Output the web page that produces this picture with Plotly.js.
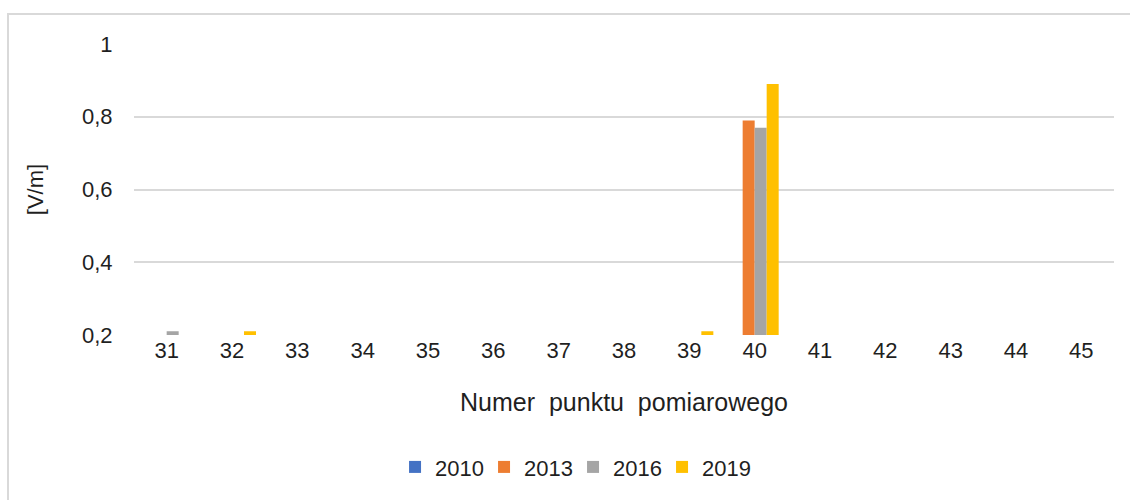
<!DOCTYPE html>
<html>
<head>
<meta charset="utf-8">
<script src="https://cdn.plot.ly/plotly-3.0.1.min.js"></script>
<style>
  body { margin: 0; background: #fff; }
  #frame { position: absolute; left: 7px; top: 13px; width: 1140px; height: 510px; border: 2px solid #d9d9d9; }
  #chart { position: absolute; left: 0; top: 0; width: 1130px; height: 500px; }
</style>
</head>
<body>
<div id="frame"></div>
<div id="chart"></div>
<script>
// measuring points
var points = ['31','32','33','34','35','36','37','38','39','40','41','42','43','44','45']
// [V/m] per year, values <= 0.2 sit on the axis floor
var y2010 = [0.2,0.2,0.2,0.2,0.2,0.2,0.2,0.2,0.2,0.2,0.2,0.2,0.2,0.2,0.2]
var y2013 = [0.2,0.2,0.2,0.2,0.2,0.2,0.2,0.2,0.2,0.79,0.2,0.2,0.2,0.2,0.2]
var y2016 = [0.21,0.2,0.2,0.2,0.2,0.2,0.2,0.2,0.2,0.77,0.2,0.2,0.2,0.2,0.2]
var y2019 = [0.2,0.21,0.2,0.2,0.2,0.2,0.2,0.2,0.21,0.89,0.2,0.2,0.2,0.2,0.2]
var years = ['2010','2013','2016','2019']
var colors = ['#4472c4','#ed7d31','#a5a5a5','#ffc000']

var series = [y2010, y2013, y2016, y2019]
var data = []
for (var i = 0; i < series.length; i++) {
  data.push({
    type: 'bar',
    name: years[i],
    x: points,
    y: series[i],
    marker: {color: colors[i], line: {width: 0}},
    hoverinfo: 'x+y+name'
  })
}

var font = {family: 'Liberation Sans, Arial, sans-serif', size: 22, color: '#1f1f1f'}
var titleFont = {family: 'Liberation Sans, Arial, sans-serif', size: 25, color: '#1f1f1f'}

var layout = {
  width: 1130,
  height: 500,
  margin: {l: 134, r: 16, t: 44, b: 165},
  paper_bgcolor: 'rgba(0,0,0,0)',
  plot_bgcolor: 'rgba(0,0,0,0)',
  separators: ', ',
  font: font,
  barmode: 'group',
  bargap: 0.265,
  bargroupgap: 0,
  showlegend: true,
  legend: {
    orientation: 'h',
    x: 0.448, xanchor: 'center',
    y: -0.454, yanchor: 'middle',
    font: font,
    itemwidth: 30,
    entrywidth: 44,
    traceorder: 'normal'
  },
  xaxis: {
    type: 'category',
    showgrid: false,
    showline: false,
    zeroline: false,
    ticks: '',
    tickfont: font,
    title: {text: 'Numer\u00a0 punktu\u00a0 pomiarowego', font: titleFont, standoff: 31},
    automargin: false
  },
  yaxis: {
    range: [0.2, 1],
    dtick: 0.2,
    tick0: 0.2,
    showgrid: true,
    gridcolor: '#d9d9d9',
    gridwidth: 2,
    zeroline: false,
    showline: false,
    ticks: 'outside',
    ticklen: 16,
    tickcolor: 'rgba(0,0,0,0)',
    tickfont: font,
    title: {text: '[V/m]', font: font, standoff: 32},
    automargin: false
  }
}

Plotly.newPlot('chart', data, layout, {displayModeBar: false, staticPlot: true})
</script>
</body>
</html>
